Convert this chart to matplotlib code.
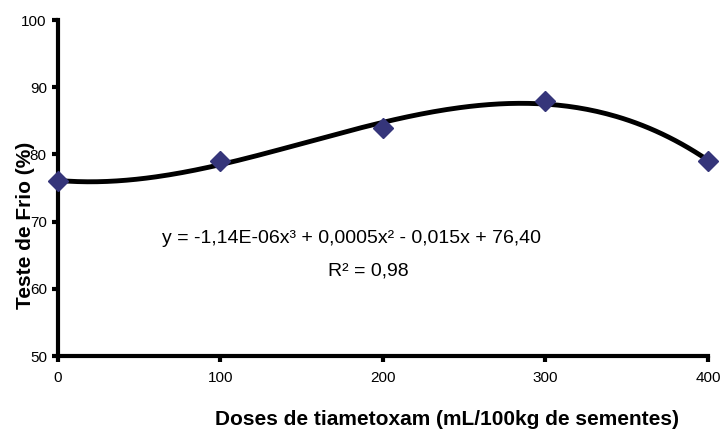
import numpy as np
import matplotlib
matplotlib.use("Agg")
import matplotlib.pyplot as plt

plt.rcParams['font.family'] = ['Liberation Sans', 'DejaVu Sans']

doses = [0, 100, 200, 300, 400]
teste_frio = [76, 79, 84, 88, 79]
x_ticks = [0, 100, 200, 300, 400]
y_ticks = [50, 60, 70, 80, 90, 100]

# cubic trend line, as fitted to the measured points
coef = np.polyfit(doses, teste_frio, 3)
xs = np.linspace(min(doses), max(doses), 200)
ys = np.polyval(coef, xs)

fig = plt.figure(figsize=(7.23, 4.32), dpi=100)
ax = fig.add_axes([0.0802, 0.1759, 0.899, 0.7778])

ax.plot(xs, ys, color='black', linewidth=3.5, zorder=2)
ax.plot(doses, teste_frio, linestyle='none', marker='D', markersize=10,
        color='#35357a', zorder=3, clip_on=False)

ax.set_xlim(0, 400)
ax.set_ylim(50, 100)
ax.set_xticks(x_ticks)
ax.set_yticks(y_ticks)
ax.tick_params(labelsize=11, width=3, length=4, direction='out')
ax.tick_params(axis='x', pad=7)
ax.tick_params(axis='y', pad=4)
for s in ['top', 'right']:
    ax.spines[s].set_visible(False)
for s in ['left', 'bottom']:
    ax.spines[s].set_linewidth(3)

fig.text(0.224, 0.449, "y = -1,14E-06x³ + 0,0005x² - 0,015x + 76,40",
         ha='left', va='center', fontsize=14)
fig.text(0.509, 0.373, "R² = 0,98", ha='center', va='center', fontsize=14)

# y title sits over the tick labels, as in the original
fig.text(0.035, 0.479, "Teste de Frio (%)", rotation=90, ha='center', va='center',
         fontsize=15, fontweight='bold')
fig.text(0.618, 0.028, "Doses de tiametoxam (mL/100kg de sementes)",
         ha='center', va='center', fontsize=15, fontweight='bold')

fig.savefig("out.png", dpi=100)
